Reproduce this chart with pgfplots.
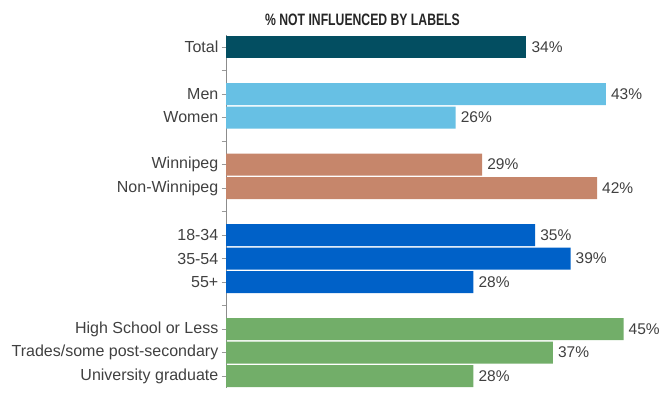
\documentclass[border=0pt]{standalone}
\usepackage{pgfplots}
\pgfplotsset{compat=1.18}
\usepackage{fontspec}
\setmainfont{Liberation Sans}
\usepackage{graphicx}
\definecolor{cTotal}{HTML}{034E61}
\definecolor{cSex}{HTML}{67C0E4}
\definecolor{cReg}{HTML}{C6866B}
\definecolor{cAge}{HTML}{0061C8}
\definecolor{cEdu}{HTML}{72AE69}
\definecolor{txt}{HTML}{404040}
\begin{document}
\begin{tikzpicture}[x=1pt,y=1pt]
\begin{axis}[
  at={(226pt,11.25pt)}, anchor=south west,
  scale only axis, width=424pt, height=352.5pt,
  xmin=0, xmax=48, ymin=-0.5, ymax=14.5,
  y dir=reverse,
  xbar, bar width=22pt,
  axis x line=none,
  axis y line*=left,
  axis line style={draw=black!45, line width=0.8pt},
  ytick={0,...,14},
  yticklabels={Total,{},Men,Women,{},Winnipeg,Non-Winnipeg,{},18-34,35-54,55+,{},High School or Less,Trades/some post-secondary,University graduate},
  tick align=outside,
  major tick length=4.5pt,
  tick style={draw=black!40, line width=0.6pt},
  yticklabel style={font=\fontsize{16}{18}\selectfont, text=txt, inner sep=0pt, xshift=-3pt},
  /pgf/number format/assume math mode=true,
  nodes near coords={\pgfmathprintnumber{\pgfplotspointmeta}\%},
  point meta=explicit,
  nodes near coords style={font=\fontsize{15.5}{18}\selectfont, text=txt, anchor=west, inner sep=0pt, xshift=5pt},
  clip=false,
]
\addplot[fill=cTotal, draw=none, bar shift=0pt] coordinates {(34,0) [34]};
\addplot[fill=cSex, draw=none, bar shift=0pt] coordinates {(43,2) [43] (26,3) [26]};
\addplot[fill=cReg, draw=none, bar shift=0pt] coordinates {(29,5) [29] (42,6) [42]};
\addplot[fill=cAge, draw=none, bar shift=0pt] coordinates {(35,8) [35] (39,9) [39] (28,10) [28]};
\addplot[fill=cEdu, draw=none, bar shift=0pt] coordinates {(45,12) [45] (37,13) [37] (28,14) [28]};
\end{axis}
\node[text=black!85!white] at (362.5pt,379.5pt) {\scalebox{0.74}[1]{\fontsize{16.5}{18}\selectfont\bfseries \% NOT INFLUENCED BY LABELS}};
\pgfresetboundingbox
\path[use as bounding box] (0,0) rectangle (660pt,399pt);
\end{tikzpicture}
\end{document}
